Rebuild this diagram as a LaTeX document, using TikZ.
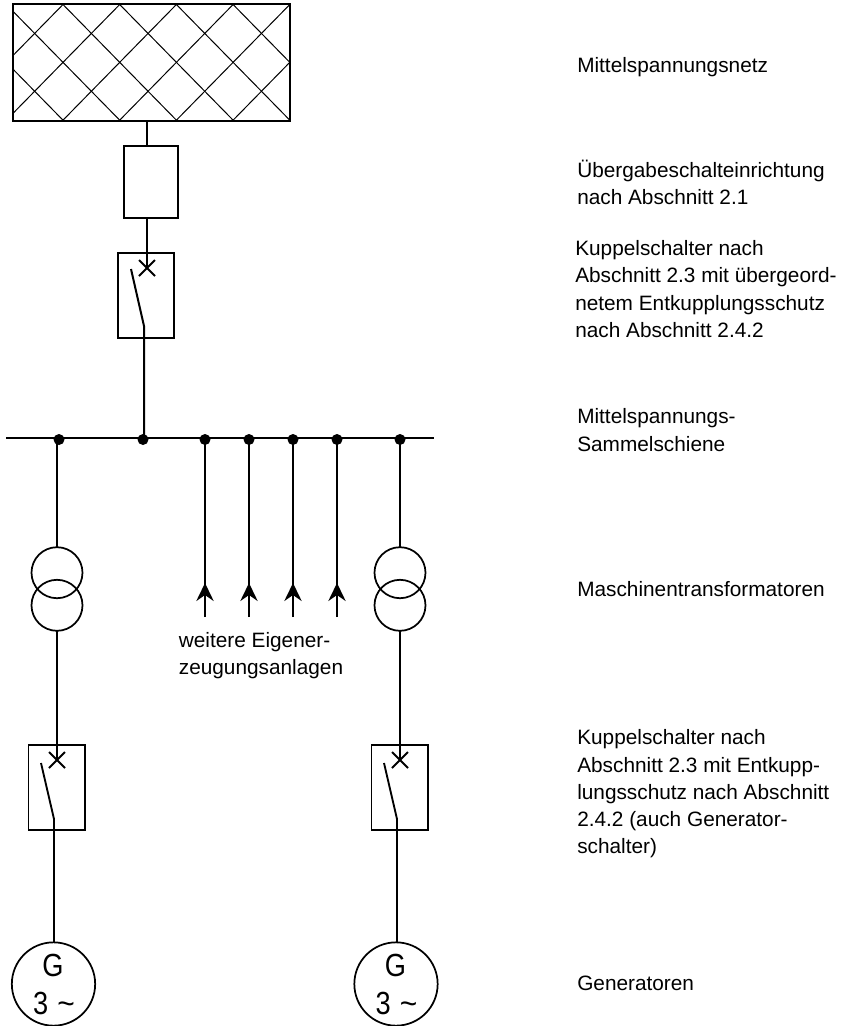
\documentclass[tikz,border=0pt]{standalone}
\usepackage{fontspec}
\setmainfont{Liberation Sans}
\usetikzlibrary{arrows.meta}
\tikzset{
  wire/.style={draw=black,line width=1.5pt},
  thin wire/.style={draw=black,line width=1.4pt},
  boxn/.style={draw=black,line width=1.5pt,rectangle,inner sep=0pt,outer sep=0pt,fill=none},
  ringn/.style={draw=black,line width=1.3pt,circle,inner sep=0pt,outer sep=0pt,minimum size=38.25pt},
  genn/.style={draw=black,line width=1.3pt,circle,inner sep=0pt,outer sep=0pt,minimum size=62.5pt},
  dotn/.style={fill=black,circle,inner sep=0pt,outer sep=0pt,minimum size=8.25pt},
  lab/.style={font=\fontsize{15.6pt}{20.4pt}\selectfont,align=left,anchor=west,inner sep=0pt},
  gen text/.style={font=\fontsize{24pt}{24pt}\selectfont,inner sep=0pt,xscale=0.85},
  hatch/.style={draw=black,line width=0.75pt},
  feed/.style={draw=black,line width=1.5pt,-{Stealth[length=13.5pt,width=13pt,inset=4.5pt]}}
}
\begin{document}
\begin{tikzpicture}[x=0.75pt,y=-0.75pt]
\useasboundingbox (0,0) rectangle (844,1026);
% medium voltage grid
\begin{scope}
\clip (13.5,4.5) rectangle (290,121);
\foreach \k in {0,...,8}{
  \draw[hatch] ({63+56.7*\k-56.7},4.5) ++(-150,153) -- ++(170,-173.4);
  \draw[hatch] ({63+56.7*\k-170.1},4.5) ++(-20,-20.4) -- ++(170,173.4);
}
\end{scope}
\node[boxn,minimum width=207.4pt,minimum height=87.4pt] (net) at (151.75,62.75) {};
% upper chain
\node[boxn,minimum width=40.5pt,minimum height=54pt] (hand) at (151,181.5) {};
\draw[wire] (147,121) coordinate (netout) -- (147,145.5) coordinate (handin);
\node[boxn,minimum width=42pt,minimum height=63.4pt] (cb) at (146,295.75) {};
\coordinate (cbx) at (147,268);
\draw[wire] (147,217.5) coordinate (handout) -- (cbx);
\draw[wire] ([shift={(-8,-8)}]cbx) -- ([shift={(8,8)}]cbx);
\draw[wire] ([shift={(-8,8)}]cbx) -- ([shift={(8,-8)}]cbx);
\node[dotn] (d2) at (143,439.5) {};
\coordinate (cbs) at (131,269);
\coordinate (cbk) at (144,326);
\coordinate (cbd) at (144,439);
\draw[wire] (cbs) -- (cbk) -- (cbd);
% busbar
\coordinate (busl) at (6,438);
\coordinate (busr) at (434,438);
\draw[wire] (busl) -- (busr);
\node[dotn] (d1) at (59,439.5) {};
\node[dotn] (d7) at (400,439.5) {};
% feeders
\foreach \n/\x in {3/205,4/249,5/293,6/337}{
  \node[dotn] (d\n) at (\x,439.5) {};
  \coordinate (fa\n) at (\x,617);
  \coordinate (fb\n) at (\x,583);
  \draw[feed] (fa\n) -- (fb\n);
  \draw[wire] (fb\n) ++(0,6) -- (d\n.center);
}
\node[lab,anchor=center,align=left] (more) at (261,656) {weitere Eigener-\\zeugungsanlagen};
% branches
\foreach \s/\xl/\xg/\dn/\bx/\gx in {a/57/54/d1/56.75/53.5,b/400/397/d7/399.75/396}{
  \node[ringn] (t1\s) at (\xl,572.7) {};
  \node[ringn] (t2\s) at (\xl,605.3) {};
  \draw[thin wire] (\xl,439.5) -- (t1\s.north);
  \node[boxn,line width=1.35pt,minimum width=42.4pt,minimum height=63.75pt] (sw\s) at (\bx,787.5) {};
  \coordinate (x\s) at (\xl,760);
  \draw[thin wire] (t2\s.south) -- (x\s);
  \draw[thin wire] ([shift={(-8,-8)}]x\s) -- ([shift={(8,8)}]x\s);
  \draw[thin wire] ([shift={(-8,8)}]x\s) -- ([shift={(8,-8)}]x\s);
  \node[genn] (g\s) at (\gx,984) {};
  \coordinate (sws) at ({\xg-13},763);
  \coordinate (swk) at (\xg,819);
  \draw[thin wire] (sws) -- (swk) -- (\xg,942);
  \node[gen text] (gt\s) at ({\gx-0.5},965) {G};
  \node[gen text] (gn\s) at ({\gx+0.5},1003) {3\hspace{8pt}\scalebox{1.1}[1]{\char"007E}};
}
% labels
\node[lab] (l1) at (577,67.5) {Mittelspannungsnetz};
\node[lab] (l2) at (577,182) {Übergabeschalteinrichtung\\nach Abschnitt 2.1};
\node[lab] (l3) at (575,289) {Kuppelschalter nach\\Abschnitt 2.3 mit übergeord-\\netem Entkupplungsschutz\\nach Abschnitt 2.4.2};
\node[lab] (l4) at (577,430) {Mittelspannungs-\\Sammelschiene};
\node[lab] (l5) at (577,589) {Maschinentransformatoren};
\node[lab] (l6) at (577,794) {Kuppelschalter nach\\Abschnitt 2.3 mit Entkupp-\\lungsschutz nach Abschnitt\\2.4.2 (auch Generator-\\schalter)};
\node[lab] (l7) at (577,983) {Generatoren};
\end{tikzpicture}
\end{document}
